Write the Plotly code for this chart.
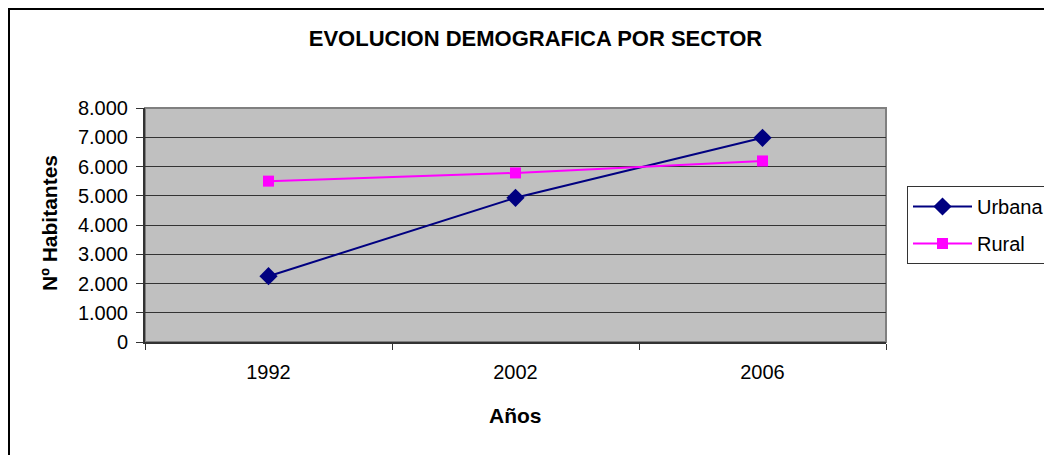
import plotly.graph_objects as go

# Datos
anios = ["1992", "2002", "2006"]
urbana = [2250, 4930, 6980]
rural = [5500, 5780, 6190]

FONT = "Liberation Sans, Arial, sans-serif"

# la pagina html tiene un margen de 8px en el body
OFF = 8
W, H = 1052 - OFF, 455 - OFF
# Area del grafico (pixeles de la referencia): x 145-886, y 108-342
L, R, T, B = 145 - OFF, 886 - OFF, 108 - OFF, 342 - OFF


def px_x(p):
    return (p - OFF - L) / (R - L)


def px_y(p):
    return (B - (p - OFF)) / (B - T)


fig = go.Figure()

fig.add_trace(go.Scatter(
    x=anios, y=urbana, name="Urbana", mode="lines+markers", legendgroup="u",
    line=dict(color="#000080", width=2),
    marker=dict(symbol="diamond", size=14, color="#000080"),
))
fig.add_trace(go.Scatter(
    x=anios, y=rural, name="Rural", mode="lines+markers", legendgroup="r",
    line=dict(color="#FF00FF", width=2),
    marker=dict(symbol="square", size=11, color="#FF00FF"),
))

fig.update_layout(
    width=W, height=H,
    margin=dict(l=L, r=W - R, t=T, b=H - B),
    paper_bgcolor="white",
    plot_bgcolor="#C0C0C0",
    separators=",.",
    font=dict(family=FONT, size=20, color="black"),
    title=dict(
        text="<b>EVOLUCION DEMOGRAFICA POR SECTOR</b>",
        x=px_x(535.5), xref="paper", xanchor="center",
        y=1 - (38 - OFF) / H, yanchor="middle",
        font=dict(size=22, family=FONT),
    ),
    showlegend=True,
    legend=dict(
        xref="container", yref="container",
        x=(907 - OFF) / W, y=1 - (186 - OFF) / H,
        xanchor="left", yanchor="top",
        bordercolor="#333333", borderwidth=1, bgcolor="white",
        font=dict(size=20, family=FONT),
        traceorder="grouped", tracegroupgap=8, itemwidth=59,
    ),
)

fig.update_xaxes(
    type="category", range=[-0.5, 2.5],
    tickson="boundaries", ticks="outside", ticklen=6, tickcolor="#333333",
    showline=True, linecolor="#333333", linewidth=2,
    showgrid=False, zeroline=False,
    ticklabelstandoff=11,
)
fig.update_yaxes(
    range=[0, 8000], dtick=1000, tickformat=",d",
    ticks="outside", ticklen=7, tickcolor="#333333",
    showline=True, linecolor="#333333", linewidth=2,
    showgrid=True, gridcolor="#333333", gridwidth=1,
    zeroline=False,
    ticklabelstandoff=4,
)

# titulos de ejes
fig.add_annotation(
    text="<b>Nº Habitantes</b>", xref="paper", yref="paper",
    x=px_x(49), y=px_y(223), textangle=-90, showarrow=False,
    xanchor="center", yanchor="middle", font=dict(size=21),
)
fig.add_annotation(
    text="<b>Años</b>", xref="paper", yref="paper",
    x=0.5, y=px_y(415), showarrow=False,
    xanchor="center", yanchor="middle", font=dict(size=21),
)

# borde gris del area de trazado (arriba / derecha)
fig.add_shape(
    type="rect", xref="paper", yref="paper", x0=0, x1=1, y0=0, y1=1,
    line=dict(color="#808080", width=2), layer="below",
)
# marco exterior del grafico
fig.add_shape(
    type="rect", xref="paper", yref="paper",
    x0=px_x(9), x1=px_x(1070), y0=px_y(470), y1=px_y(9),
    line=dict(color="black", width=2),
)

fig.write_html("out.html")
